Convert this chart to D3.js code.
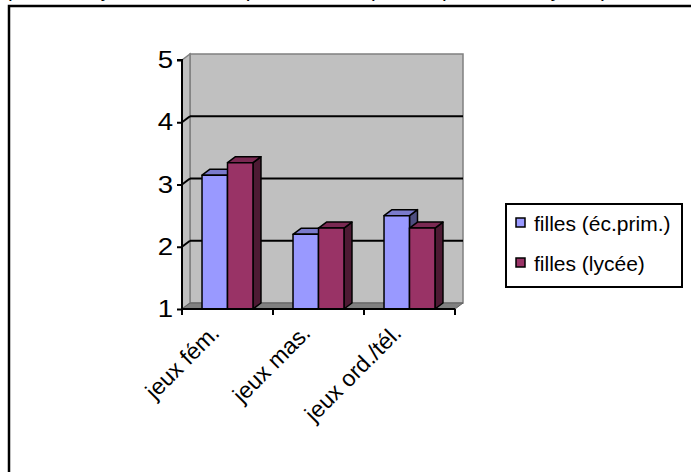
<!DOCTYPE html>
<html><head><meta charset="utf-8">
<script src="https://cdn.jsdelivr.net/npm/d3@7"></script>
<style>body{margin:0;background:#fff}svg{display:block}text{font-family:Arial,"Liberation Sans",sans-serif}</style>
</head><body><svg id="c" width="691" height="472"></svg>
<script>
const categories = ["jeux fém.", "jeux mas.", "jeux ord./tél."];
const seriesNames = ["filles (éc.prim.)", "filles (lycée)"];
const primValues = [3.15, 2.2, 2.5];
const lyceeValues = [3.35, 2.3, 2.3];
const yTicks = [1, 2, 3, 4, 5];
const titleText = "pour les jeux selon le public visé (filles, primaire, lycée)";

const fronts = ["#9999ff", "#993366"];
const tops = ["#7a7acc", "#7a2952"];
const sides = ["#4d4d80", "#4d1a33"];

const svg = d3.select("#c");
const DX = 8, DY = -6;
const x0 = 182, x1 = 455, yTop = 60, yBot = 309;
const y = d3.scaleLinear().domain([1, 5]).range([yBot, yTop]);
const xb = d3.scaleBand().domain(categories).range([x0, x1]).paddingInner(0.44).paddingOuter(0.22);
const xs = d3.scaleBand().domain([0, 1]).range([0, xb.bandwidth()]);

// outer frame
svg.append("path").attr("d", `M9,472 V6 H691`).attr("fill", "none").attr("stroke", "#000").attr("stroke-width", 2.5);
// title (cut off at the top, only descenders visible)
svg.append("text").attr("x", 8).attr("y", -3).attr("font-size", 21).attr("textLength", 600).text(titleText);

const g = svg.append("g");
// back wall
g.append("rect").attr("x", x0 + DX).attr("y", yTop + DY).attr("width", x1 - x0).attr("height", yBot - yTop)
  .attr("fill", "#c0c0c0").attr("stroke", "#808080").attr("stroke-width", 1.5);
// left side wall
g.append("path").attr("d", `M${x0},${yTop} L${x0+DX},${yTop+DY} L${x0+DX},${yBot+DY} L${x0},${yBot} Z`)
  .attr("fill", "#c0c0c0").attr("stroke", "#808080").attr("stroke-width", 1.5);
// floor
g.append("path").attr("d", `M${x0},${yBot} L${x0+DX},${yBot+DY} L${x1+DX},${yBot+DY} L${x1},${yBot} Z`)
  .attr("fill", "#808080").attr("stroke", "#606060").attr("stroke-width", 1);
// gridlines
yTicks.filter(t => t > 1 && t < 5).forEach(t => {
  g.append("line").attr("x1", x0 + DX).attr("x2", x1 + DX).attr("y1", y(t) + DY).attr("y2", y(t) + DY)
    .attr("stroke", "#000").attr("stroke-width", 2);
  g.append("line").attr("x1", x0).attr("x2", x0 + DX).attr("y1", y(t)).attr("y2", y(t) + DY)
    .attr("stroke", "#000").attr("stroke-width", 2);
});

// bars
const data = [primValues, lyceeValues];
categories.forEach((c, i) => {
  [0, 1].forEach(s => {
    const v = data[s][i];
    const bx = xb(c) + xs(s), bw = xs.bandwidth();
    const by = y(v), bb = y(1);
    const bg = g.append("g").attr("stroke", "#000").attr("stroke-width", 1.5).attr("stroke-linejoin", "round");
    bg.append("path").attr("d", `M${bx+bw},${by} L${bx+bw+DX},${by+DY} L${bx+bw+DX},${bb+DY} L${bx+bw},${bb} Z`).attr("fill", sides[s]);
    bg.append("path").attr("d", `M${bx},${by} L${bx+DX},${by+DY} L${bx+bw+DX},${by+DY} L${bx+bw},${by} Z`).attr("fill", tops[s]);
    bg.append("rect").attr("x", bx).attr("y", by).attr("width", bw).attr("height", bb - by).attr("fill", fronts[s]);
  });
});

// y axis
const ya = svg.append("g").attr("transform", `translate(${x0},0)`)
  .call(d3.axisLeft(y).tickValues(yTicks).tickSize(5).tickPadding(3).tickFormat(d3.format("d")));
ya.select(".domain").attr("stroke", "#000").attr("stroke-width", 2).attr("d", `M-5,${yTop}H0V${yBot}`);
ya.selectAll("line").attr("stroke-width", 2);
ya.selectAll("text").attr("font-size", 24).attr("font-family", "Arial, 'Liberation Sans', sans-serif").attr("fill", "#000")
  .attr("x", 0).attr("transform", "translate(-9,0) scale(1.15,1)");

// x axis
const xTickPos = categories.map(c => xb(c) - xb.step() * xb.paddingInner() / 2).concat([x1]);
const xa = svg.append("g");
xa.append("line").attr("x1", x0).attr("x2", x1).attr("y1", yBot).attr("y2", yBot).attr("stroke", "#000").attr("stroke-width", 2);
xTickPos.forEach(p => xa.append("line").attr("x1", p).attr("x2", p).attr("y1", yBot).attr("y2", yBot + 6).attr("stroke", "#000").attr("stroke-width", 2));
categories.forEach(c => {
  const cx = xb(c) + xb.bandwidth() / 2;
  xa.append("text").attr("transform", `translate(${cx - 18},${yBot + 14}) rotate(-45)`)
    .attr("text-anchor", "end").attr("dy", "0.7em").attr("font-size", 23).text(c);
});

// legend
const lg = svg.append("g");
lg.append("rect").attr("x", 506).attr("y", 204).attr("width", 176).attr("height", 83).attr("fill", "#fff").attr("stroke", "#000").attr("stroke-width", 2);
seriesNames.forEach((n, i) => {
  lg.append("rect").attr("x", 516).attr("y", 218 + i * 40).attr("width", 9).attr("height", 9).attr("fill", fronts[i]).attr("stroke", "#000").attr("stroke-width", 1.5);
  lg.append("text").attr("x", 534).attr("y", 231 + i * 40).attr("font-size", 21).text(n);
});
</script></body></html>
